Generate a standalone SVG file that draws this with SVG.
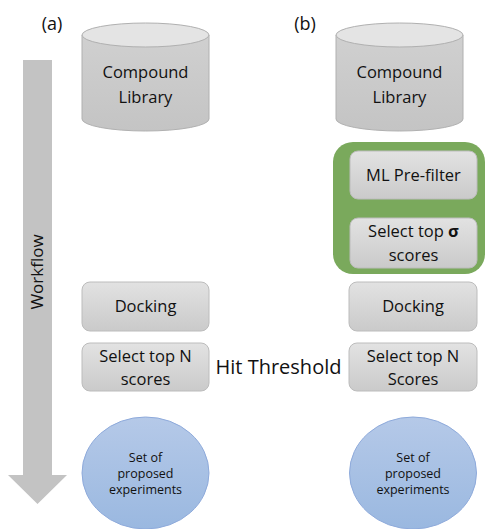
<svg xmlns="http://www.w3.org/2000/svg" width="486" height="529" viewBox="0 0 486 529">
<defs>
<linearGradient id="gbox" x1="0" y1="0" x2="0" y2="1"><stop offset="0" stop-color="#e2e2e2"/><stop offset="1" stop-color="#cacaca"/></linearGradient>
<linearGradient id="gcyl" x1="0" y1="0" x2="0" y2="1"><stop offset="0" stop-color="#d0d0d0"/><stop offset="1" stop-color="#c4c4c4"/></linearGradient>
<linearGradient id="gell" x1="0" y1="0" x2="0" y2="1"><stop offset="0" stop-color="#b5c9e8"/><stop offset="1" stop-color="#9ab8e0"/></linearGradient>
<style>
text{font-family:"Open Sans","Noto Sans","Liberation Sans",sans-serif;fill:#111;text-anchor:middle}
.box{fill:url(#gbox);stroke:#bcbcbc;stroke-width:1}
.cyl{fill:url(#gcyl);stroke:#b0b0b0;stroke-width:1}
.top{fill:#e4e4e4;stroke:#b0b0b0;stroke-width:1}
.ell{fill:url(#gell);stroke:#8eaadb;stroke-width:1}
.t16{font-size:16.5px}
.t12{font-size:12.5px}
</style>
</defs>
<g id="workflow-arrow">
<polygon points="23,60 52,60 52,475 67,475 37.5,504 8,475 23,475" fill="#c3c3c3"/>
<text transform="translate(43,272) rotate(-90)" font-size="17">Workflow</text>
</g>
<g id="label-a"><text x="52" y="30" font-size="18">(a)</text></g>
<g id="label-b"><text x="305" y="30" font-size="18">(b)</text></g>
<g id="lib-a">
<path class="cyl" d="M82,35 L82,119 A63.5,12 0 0 0 209,119 L209,35"/>
<ellipse class="top" cx="145.5" cy="35" rx="63.5" ry="12"/>
<text class="t16" x="145.5" y="78">Compound</text>
<text class="t16" x="145.5" y="103">Library</text>
</g>
<g id="lib-b">
<path class="cyl" d="M336,35 L336,119 A63.5,12 0 0 0 463,119 L463,35"/>
<ellipse class="top" cx="399.5" cy="35" rx="63.5" ry="12"/>
<text class="t16" x="399.5" y="78">Compound</text>
<text class="t16" x="399.5" y="103">Library</text>
</g>
<g id="ml-group">
<rect x="333" y="142" width="152" height="132" rx="20" fill="#7aa95c"/>
</g>
<g id="ml-prefilter">
<rect class="box" x="350" y="151" width="127" height="48" rx="8"/>
<text class="t16" x="413.5" y="181">ML Pre-filter</text>
</g>
<g id="select-sigma">
<rect class="box" x="350" y="218" width="127" height="50" rx="8"/>
<text class="t16" x="413.5" y="237">Select top <tspan font-weight="bold">σ</tspan></text>
<text class="t16" x="413.5" y="261">scores</text>
</g>
<g id="dock-a">
<rect class="box" x="82" y="282" width="127" height="49" rx="8"/>
<text class="t16" x="145.5" y="312">Docking</text>
</g>
<g id="dock-b">
<rect class="box" x="349" y="282" width="128" height="49" rx="8"/>
<text class="t16" x="413" y="312">Docking</text>
</g>
<g id="select-a">
<rect class="box" x="82" y="343" width="127" height="48" rx="8"/>
<text class="t16" x="145.5" y="362">Select top N</text>
<text class="t16" x="145.5" y="385">scores</text>
</g>
<g id="select-b">
<rect class="box" x="349" y="343" width="128" height="48" rx="8"/>
<text class="t16" x="413" y="362">Select top N</text>
<text class="t16" x="413" y="385">Scores</text>
</g>
<g id="hit-threshold"><text x="278.5" y="374" font-size="20">Hit Threshold</text></g>
<g id="set-a">
<ellipse class="ell" cx="145.5" cy="473" rx="63.5" ry="56"/>
<text class="t12" x="145.5" y="462">Set of</text>
<text class="t12" x="145.5" y="478">proposed</text>
<text class="t12" x="145.5" y="494">experiments</text>
</g>
<g id="set-b">
<ellipse class="ell" cx="413" cy="473" rx="63.5" ry="56"/>
<text class="t12" x="413" y="462">Set of</text>
<text class="t12" x="413" y="478">proposed</text>
<text class="t12" x="413" y="494">experiments</text>
</g>
<g id="connectors"></g>
</svg>
